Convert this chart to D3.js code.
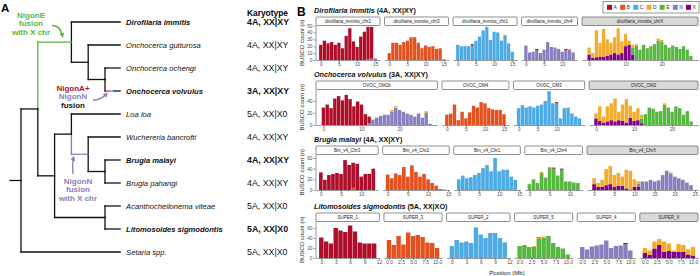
<!DOCTYPE html>
<html>
<head>
<meta charset="utf-8">
<script src="https://cdn.jsdelivr.net/npm/d3@7"></script>
<style>
  body { margin: 0; background: #fff; }
  svg { display: block; font-family: 'Liberation Sans', Arial, sans-serif; }
</style>
</head>
<body>
<svg id="chart" width="700" height="276"></svg>
<script>
// nigon elements, palette and stacking order (bottom to top)
const nigonKeys = ['A', 'B', 'C', 'D', 'E', 'N', 'X']
const nigonColors = ['#af0e2b', '#e4501e', '#4caae5', '#f3ac2c', '#57b741', '#8880be', '#81008b']
const stackOrder = ['X', 'N', 'E', 'D', 'C', 'B', 'A']

// phylogeny (panel A), parent links and node depth levels
const treeIds = ['root', 'n1', 'diroOncho', 'oncho', 'ochVol', 'lower', 'loaClade', 'wuchBrugia', 'brugia', 'acanLito',
  'Dirofilaria immitis', 'Onchocerca gutturosa', 'Onchocerca ochengi', 'Onchocerca volvulus', 'Loa loa',
  'Wuchereria bancrofti', 'Brugia malayi', 'Brugia pahangi', 'Acanthocheilonema viteae',
  'Litomosoides sigmodontis', 'Setaria spp.']
const treeParents = ['', 'root', 'n1', 'diroOncho', 'oncho', 'n1', 'lower', 'loaClade', 'wuchBrugia', 'lower',
  'diroOncho', 'oncho', 'ochVol', 'ochVol', 'loaClade', 'wuchBrugia', 'brugia', 'brugia', 'acanLito',
  'acanLito', 'root']
const treeLevels = [0, 1, 3, 4, 5, 2, 3, 4, 5, 5, 5.9, 5.9, 5.9, 5.9, 5.9, 5.9, 5.9, 5.9, 5.9, 5.9, 5.9]
const tipOrder = ['Dirofilaria immitis', 'Onchocerca gutturosa', 'Onchocerca ochengi', 'Onchocerca volvulus',
  'Loa loa', 'Wuchereria bancrofti', 'Brugia malayi', 'Brugia pahangi', 'Acanthocheilonema viteae',
  'Litomosoides sigmodontis', 'Setaria spp.']
const karyotypes = ['4A, XX|XY', '4A, XX|XY', '4A, XX|XY', '3A, XX|XY', '5A, XX|X0', '4A, XX|XY',
  '4A, XX|XY', '4A, XX|XY', '5A, XX|X0', '5A, XX|X0', '5A, XX|X0']
const boldTips = ['Dirofilaria immitis', 'Onchocerca volvulus', 'Brugia malayi', 'Litomosoides sigmodontis']

// panel B rows
const rowSpecies = ['Dirofilaria immitis', 'Onchocerca volvulus', 'Brugia malayi', 'Litomosoides sigmodontis']
const rowKaryo = ['(4A, XX|XY)', '(3A, XX|XY)', '(4A, XX|XY)', '(5A, XX|XO)']
const rowYTicks = [[0, 10, 20, 30, 40, 50], [0, 20, 40], [0, 20, 40, 60], [0, 20, 40, 60]]
const rowYMax = [50, 59, 66.5, 73]

// Dirofilaria immitis, BUSCO count per 1 Mb bin
const dimPanels = ['dirofilaria_immitis_chr2', 'dirofilaria_immitis_chr3', 'dirofilaria_immitis_chr1',
  'dirofilaria_immitis_chr4', 'dirofilaria_immitis_chrX']
const dimTicks = [[0, 5, 10, 15], [0, 5, 10, 15], [0, 5, 10, 15], [0, 5, 10], [0, 10, 20]]
const dimChr2A = [22, 28, 24, 26, 22, 25, 17, 35, 46, 27, 19, 34, 41, 47, 46, 1]
const dimChr2B = [0, 0, 0, 0, 0, 0, 0, 0, 0, 0, 0, 0, 0, 1, 2, 1]
const dimChr3B = [10, 25, 25, 22, 26, 28, 33, 33, 25, 17, 21, 19, 20, 16, 17, 1]
const dimChr1C = [22, 20, 20, 20, 21, 28, 34, 43, 48, 29, 41, 40, 28, 36, 24, 12]
const dimChr1A = [0, 0, 0, 0, 2, 0, 0, 0, 0, 0, 0, 0, 0, 0, 0, 0]
const dimChr4N = [21, 11, 12, 14, 10, 15, 26, 19, 18, 16, 12, 14, 14, 11]
const dimChr4A = [0, 0, 0, 2, 0, 0, 0, 0, 0, 0, 0, 2, 1, 0]
const dimChrXX = [8, 3, 4, 5, 5, 6, 8, 10, 8, 10, 20, 22, 8, 0, 0, 0, 0, 0, 0, 0, 0, 0, 0, 0, 0, 0, 0, 0, 0]
const dimChrXD = [10, 7, 39, 20, 40, 24, 17, 23, 38, 17, 18, 6, 4, 2, 0, 0, 0, 0, 0, 3, 2, 0, 0, 0, 0, 0, 0, 0, 0]
const dimChrXE = [0, 0, 0, 0, 0, 0, 0, 0, 0, 0, 0, 0, 10, 21, 15, 22, 17, 20, 23, 28, 27, 22, 18, 21, 19, 16, 20, 15, 6]

// Onchocerca volvulus
const ovoPanels = ['OVOC_OM1b', 'OVOC_OM4', 'OVOC_OM3', 'OVOC_OM2']
const ovoTicks = [[0, 10, 20], [0, 5, 10, 15], [0, 5, 10], [0, 10, 20]]
const ovoOm1bA = [29, 34, 28, 44, 48, 41, 50, 43, 31, 39, 34, 18, 11, 0, 0, 0, 0, 0, 0, 0, 0, 0, 0, 0, 0, 0, 0, 0, 0]
const ovoOm1bN = [0, 0, 0, 0, 0, 0, 0, 0, 0, 0, 0, 0, 3, 9, 12, 15, 17, 17, 22, 29, 25, 22, 19, 17, 14, 19, 12, 20, 2]
const ovoOm1bD = [0, 0, 0, 0, 0, 0, 0, 0, 0, 0, 0, 0, 0, 0, 0, 0, 0, 0, 3, 2, 0, 0, 0, 0, 0, 0, 0, 3, 0]
const ovoOm4B = [17, 19, 34, 8, 22, 11, 21, 32, 29, 38, 36, 28, 26, 25, 25, 18]
const ovoOm3C = [28, 33, 29, 31, 29, 32, 34, 40, 56, 36, 36, 11, 28, 29, 19, 14, 11]
const ovoOm3A = [0, 0, 0, 0, 0, 0, 0, 0, 0, 0, 2, 0, 0, 0, 0, 0, 0]
const ovoOm2X = [11, 7, 4, 6, 8, 6, 8, 7, 4, 12, 7, 8, 3, 0, 0, 0, 0, 0, 0, 0, 0, 0, 0, 0, 0, 0]
const ovoOm2D = [8, 24, 10, 25, 28, 38, 14, 27, 39, 20, 15, 20, 6, 0, 0, 0, 0, 0, 3, 0, 0, 0, 0, 0, 0, 0]
const ovoOm2E = [0, 0, 0, 0, 0, 0, 0, 0, 0, 0, 0, 0, 8, 18, 29, 27, 22, 23, 33, 29, 22, 31, 28, 17, 23, 6]

// Brugia malayi
const bmaPanels = ['Bm_v4_Chr3', 'Bm_v4_Chr2', 'Bm_v4_Chr1', 'Bm_v4_Chr4', 'Bm_v4_ChrX']
const bmaTicks = [[0, 5, 10], [0, 5, 10, 15], [0, 5, 10, 15], [0, 5, 10], [0, 5, 10, 15, 20, 25]]
const bmaChr3A = [33, 19, 28, 30, 32, 30, 56, 47, 47, 49, 25, 30, 30, 40]
const bmaChr3B = [0, 0, 0, 0, 0, 0, 0, 0, 4, 0, 0, 0, 0, 0]
const bmaChr2B = [29, 22, 31, 28, 43, 25, 46, 34, 25, 30, 20, 13, 8, 2, 1]
const bmaChr1C = [20, 27, 22, 24, 28, 32, 41, 47, 35, 60, 35, 38, 38, 25, 19]
const bmaChr4E = [11, 20, 13, 32, 22, 41, 40, 27, 38, 16, 16, 14, 13]
const bmaChr4D = [0, 0, 0, 2, 0, 2, 0, 0, 0, 0, 0, 0, 0]
const bmaChr4A = [0, 0, 0, 0, 1, 0, 2, 0, 2, 0, 0, 0, 0]
const bmaChrXX = [11, 6, 6, 9, 11, 6, 8, 8, 3, 1, 6, 6, 0, 0, 0, 0, 0, 0, 0, 0, 0, 0, 0, 0, 0]
const bmaChrXD = [11, 7, 13, 30, 34, 22, 24, 17, 35, 35, 14, 4, 0, 0, 0, 0, 0, 0, 0, 3, 0, 0, 0, 0, 0]
const bmaChrXN = [0, 0, 0, 0, 0, 0, 0, 0, 0, 0, 0, 6, 16, 16, 19, 16, 18, 28, 36, 30, 25, 22, 19, 14, 9]

// Litomosoides sigmodontis
const lsiPanels = ['SUPER_1', 'SUPER_3', 'SUPER_2', 'SUPER_5', 'SUPER_4', 'SUPER_X']
const lsiTicks = [[0, 3, 6, 9, 12], [0, 2.5, 5, 7.5, 10], [0, 3, 6, 9, 12], [0, 2.5, 5, 7.5, 10],
  [0, 2.5, 5, 7.5, 10], [0, 2.5, 5, 7.5, 10]]
const lsiSuper1A = [41, 33, 29, 60, 55, 52, 65, 53, 31, 29, 29, 29]
const lsiSuper3B = [36, 26, 44, 27, 51, 44, 46, 42, 31, 30, 20]
const lsiSuper2C = [24, 36, 31, 33, 30, 61, 47, 40, 50, 50, 40, 31]
const lsiSuper5E = [24, 26, 22, 22, 38, 41, 44, 30, 22, 19, 7]
const lsiSuper5D = [0, 0, 0, 2, 3, 2, 0, 0, 0, 0, 0]
const lsiSuper5A = [0, 0, 0, 0, 1, 0, 0, 0, 0, 0, 0]
const lsiSuper4N = [22, 17, 23, 25, 27, 35, 20, 24, 25, 28, 15]
const lsiSuper4A = [0, 0, 0, 0, 0, 0, 0, 0, 0, 2, 0]
const lsiSuperXX = [10, 6, 19, 26, 12, 14, 12, 12, 12, 7, 5]
const lsiSuperXD = [10, 9, 14, 12, 21, 15, 3, 16, 14, 10, 17]

function makeFigure() {
  const svg = d3.select('#chart')
  const color = d3.scaleOrdinal(nigonKeys, nigonColors)
  const ink = '#111'

  // ---------- panel A ----------
  svg.append('text').attr('x', 1).attr('y', 12)
    .attr('font-size', 11.5).attr('font-weight', 'bold').text('A')

  // building hierarchy from the flat arrays
  const table = treeIds.map((id, i) => ({ id, parentId: treeParents[i] || null, level: treeLevels[i] }))
  const root = d3.stratify()(table)
  const tx = d3.scaleLinear().domain([0, 5]).range([21, 105])
  const ty = d3.scaleLinear().domain([0, tipOrder.length - 1]).range([22, 252])
  root.eachAfter(n => {
    if (n.children) {
      const ys = n.children.map(c => c.ty)
      n.ty = (d3.min(ys) + d3.max(ys)) / 2
    } else {
      n.ty = ty(tipOrder.indexOf(n.id))
    }
  })
  const node = id => root.find(n => n.id === id)

  // colored branches
  const branchColor = { diroOncho: '#57b741', wuchBrugia: '#8880be', 'Onchocerca volvulus': 'url(#fuse)' }

  const defs = svg.append('defs')
  const vol = node('Onchocerca volvulus')
  const grad = defs.append('linearGradient').attr('id', 'fuse')
    .attr('gradientUnits', 'userSpaceOnUse')
    .attr('x1', tx(vol.parent.data.level)).attr('x2', tx(vol.data.level))
    .attr('y1', 0).attr('y2', 0)
  grad.append('stop').attr('offset', 0).attr('stop-color', '#af0e2b')
  grad.append('stop').attr('offset', 0.5).attr('stop-color', '#8880be')
  grad.append('stop').attr('offset', 0.58).attr('stop-color', ink)
  grad.append('stop').attr('offset', 1).attr('stop-color', ink)

  // arrow heads
  ;[['arrowGreen', '#57b741'], ['arrowPurple', '#8880be']].forEach(([id, c]) => {
    defs.append('marker').attr('id', id)
      .attr('viewBox', '0 0 10 10').attr('refX', 6).attr('refY', 5)
      .attr('markerWidth', 5).attr('markerHeight', 5)
      .attr('markerUnits', 'userSpaceOnUse').attr('orient', 'auto')
      .append('path').attr('d', 'M0,0 L10,5 L0,10 Z').attr('fill', c)
  })

  const tree = svg.append('g')
    .attr('stroke-width', 1.3).attr('stroke-linecap', 'square').attr('fill', 'none')

  // root stub
  tree.append('line')
    .attr('x1', tx(-0.65)).attr('x2', tx(0))
    .attr('y1', root.ty).attr('y2', root.ty).attr('stroke', ink)

  const links = root.descendants().filter(d => d.parent)
  // vertical part at parent
  tree.selectAll('line.v').data(links).join('line').attr('class', 'v')
    .attr('x1', d => tx(d.parent.data.level)).attr('x2', d => tx(d.parent.data.level))
    .attr('y1', d => d.parent.ty).attr('y2', d => d.ty)
    .attr('stroke', d => (branchColor[d.id] && d.id !== 'Onchocerca volvulus') ? branchColor[d.id] : ink)
  // horizontal part to the child
  tree.selectAll('line.h').data(links).join('line').attr('class', 'h')
    .attr('x1', d => tx(d.parent.data.level)).attr('x2', d => tx(d.data.level))
    .attr('y1', d => d.ty).attr('y2', d => d.ty)
    .attr('stroke', d => branchColor[d.id] || ink)

  // tip labels
  const leaves = root.leaves()
  svg.append('g').selectAll('text').data(leaves).join('text')
    .attr('x', d => tx(d.data.level) + 6)
    .attr('y', d => d.ty + 2.7)
    .attr('font-size', 7.6).attr('font-style', 'italic')
    .attr('font-weight', d => boldTips.includes(d.id) ? 'bold' : 'normal')
    .attr('fill', ink)
    .text(d => d.id)

  // karyotype column
  svg.append('text').attr('x', 247).attr('y', 15.5)
    .attr('font-size', 8.4).attr('font-weight', 'bold').text('Karyotype')
  svg.append('g').selectAll('text').data(tipOrder).join('text')
    .attr('x', 247).attr('y', (d, i) => ty(i) + 3.1)
    .attr('font-size', 8.8)
    .attr('font-weight', d => boldTips.includes(d) ? 'bold' : 'normal')
    .attr('fill', ink)
    .text((d, i) => karyotypes[i])

  // annotations
  const note = (lines, x, y0, fills) => {
    lines.forEach((t, i) => {
      svg.append('text').attr('x', x).attr('y', y0 + i * 8.8)
        .attr('text-anchor', 'middle').attr('font-size', 8).attr('font-weight', 'bold')
        .attr('fill', fills[i]).text(t)
    })
  }
  const dOn = node('diroOncho')
  note(['NigonE', 'fusion', 'with X chr'], 31, 17.5, ['#57b741', '#57b741', '#57b741'])
  svg.append('path')
    .attr('d', `M52,25.5 Q60,25 ${tx(dOn.data.level) - 9},${dOn.ty - 6}`)
    .attr('fill', 'none').attr('stroke', '#57b741').attr('stroke-width', 1.4)
    .attr('marker-end', 'url(#arrowGreen)')

  note(['NigonA+', 'NigonN', 'fusion'], 73, 90.5, ['#af0e2b', '#8880be', ink])
  svg.append('path')
    .attr('d', `M93,100 Q100,100.5 ${tx(vol.parent.data.level) + 1.5},${vol.ty + 3}`)
    .attr('fill', 'none').attr('stroke', '#8880be').attr('stroke-width', 1.4)
    .attr('marker-end', 'url(#arrowPurple)')

  const wb = node('wuchBrugia')
  note(['NigonN', 'fusion', 'with X chr'], 78, 183.5, ['#8880be', '#8880be', '#8880be'])
  svg.append('path')
    .attr('d', `M73,174 Q72,166 ${tx(wb.parent.data.level) + 2},${wb.ty + 3.5}`)
    .attr('fill', 'none').attr('stroke', '#8880be').attr('stroke-width', 1.4)
    .attr('marker-end', 'url(#arrowPurple)')

  // ---------- panel B ----------
  svg.append('text').attr('x', 297).attr('y', 16)
    .attr('font-size', 12).attr('font-weight', 'bold').text('B')

  // legend
  const lx = d3.scalePoint().domain(nigonKeys).range([607, 686])
  svg.append('rect').attr('x', 603).attr('y', 1.5).attr('width', 96).attr('height', 11.5)
    .attr('fill', '#fff').attr('stroke', '#555').attr('stroke-width', 0.6)
  const items = svg.append('g').selectAll('g').data(nigonKeys).join('g')
    .attr('transform', d => `translate(${lx(d)},4.8)`)
  items.append('rect').attr('width', 5).attr('height', 5).attr('fill', d => color(d))
  items.append('text').attr('x', 6.5).attr('y', 4.6).attr('font-size', 5).attr('fill', '#333').text(d => d)

  const rows = [
    { panels: dimPanels, ticks: dimTicks, series: [
      { A: dimChr2A, B: dimChr2B }, { B: dimChr3B }, { C: dimChr1C, A: dimChr1A },
      { N: dimChr4N, A: dimChr4A }, { X: dimChrXX, D: dimChrXD, E: dimChrXE }] },
    { panels: ovoPanels, ticks: ovoTicks, series: [
      { A: ovoOm1bA, N: ovoOm1bN, D: ovoOm1bD }, { B: ovoOm4B }, { C: ovoOm3C, A: ovoOm3A },
      { X: ovoOm2X, D: ovoOm2D, E: ovoOm2E }] },
    { panels: bmaPanels, ticks: bmaTicks, series: [
      { A: bmaChr3A, B: bmaChr3B }, { B: bmaChr2B }, { C: bmaChr1C },
      { E: bmaChr4E, D: bmaChr4D, A: bmaChr4A }, { X: bmaChrXX, D: bmaChrXD, N: bmaChrXN }] },
    { panels: lsiPanels, ticks: lsiTicks, series: [
      { A: lsiSuper1A }, { B: lsiSuper3B }, { C: lsiSuper2C }, { E: lsiSuper5E, D: lsiSuper5D, A: lsiSuper5A },
      { N: lsiSuper4N, A: lsiSuper4A }, { X: lsiSuperXX, D: lsiSuperXD }] }
  ]

  const rowTop = [17, 81, 146, 213]
  const rowBottom = [60, 125, 190, 258]
  const stripH = 8.5
  const chartLeft = 316
  const chartRight = 698
  const gap = 4.5

  const styleAxis = g => {
    g.selectAll('path.domain').attr('stroke', '#333').attr('stroke-width', 0.5)
    g.selectAll('.tick line').attr('stroke', '#333').attr('stroke-width', 0.5)
    g.selectAll('.tick text').attr('font-size', 4.8).attr('fill', '#4d4d4d')
      .attr('font-family', "'Liberation Sans', Arial, sans-serif")
  }

  rows.forEach((row, r) => {
    const top = rowTop[r]
    const plotTop = top + stripH
    const bottom = rowBottom[r]
    const y = d3.scaleLinear().domain([0, rowYMax[r]]).range([bottom, plotTop])

    // row title
    const title = svg.append('text').attr('x', 314).attr('y', top - 4)
      .attr('font-size', 7.2).attr('font-weight', 'bold').attr('fill', ink)
    title.append('tspan').attr('font-style', 'italic').text(rowSpecies[r])
    title.append('tspan').text('\u00a0' + rowKaryo[r])

    // y axis and its label
    svg.append('g').attr('transform', `translate(${chartLeft - 0.5},0)`)
      .call(d3.axisLeft(y).tickValues(rowYTicks[r]).tickSize(2).tickSizeOuter(0).tickPadding(1))
      .call(styleAxis)
    svg.append('text')
      .attr('transform', `translate(304,${(plotTop + bottom) / 2}) rotate(-90)`)
      .attr('text-anchor', 'middle').attr('font-size', 6).attr('fill', '#222')
      .text('BUSCO count (n)')

    // shared Mb width within the row
    const bins = row.series.map(s => Object.values(s)[0].length)
    const unit = (chartRight - chartLeft - gap * (bins.length - 1)) / d3.sum(bins, n => n * 1.1)
    let left = chartLeft

    bins.forEach((n, p) => {
      const w = n * 1.1 * unit
      const x = d3.scaleLinear()
        .domain([-0.5 - 0.05 * n, n - 0.5 + 0.05 * n])
        .range([left, left + w])
      const sexChr = p === bins.length - 1

      // strip
      svg.append('rect').attr('x', left).attr('y', top).attr('width', w).attr('height', stripH)
        .attr('rx', 1).attr('fill', sexChr ? '#d9d9d9' : '#fff')
        .attr('stroke', '#444').attr('stroke-width', 0.6)
      svg.append('text').attr('x', left + w / 2).attr('y', top + stripH / 2 + 1.6)
        .attr('text-anchor', 'middle').attr('font-size', 4.5).attr('fill', '#222')
        .text(row.panels[p])

      // stacked bars
      const s = row.series[p]
      const binTable = d3.range(n).map(i => {
        const o = { bin: i }
        nigonKeys.forEach(k => { o[k] = s[k] ? s[k][i] : 0 })
        return o
      })
      const stacked = d3.stack().keys(stackOrder)(binTable)
      svg.append('g').selectAll('g').data(stacked).join('g')
        .attr('fill', d => color(d.key))
        .selectAll('rect').data(d => d.filter(v => v[1] > v[0])).join('rect')
        .attr('x', d => x(d.data.bin - 0.5) + 0.2)
        .attr('width', d => Math.max(0, x(d.data.bin + 0.5) - x(d.data.bin - 0.5) - 0.4))
        .attr('y', d => y(d[1]))
        .attr('height', d => y(d[0]) - y(d[1]))

      // x axis
      const ticks = row.ticks[p]
      const fmt = ticks.some(t => t % 1 !== 0) ? d3.format('.1f') : d3.format('d')
      svg.append('g').attr('transform', `translate(0,${bottom})`)
        .call(d3.axisBottom(x).tickValues(ticks).tickFormat(fmt).tickSize(2).tickSizeOuter(0).tickPadding(1))
        .call(styleAxis)

      left += w + gap
    })
  })

  svg.append('text').attr('x', 507).attr('y', 274.5)
    .attr('text-anchor', 'middle').attr('font-size', 6).attr('fill', '#222')
    .text('Position (Mb)')
}

window.onload = makeFigure
</script>
</body>
</html>
